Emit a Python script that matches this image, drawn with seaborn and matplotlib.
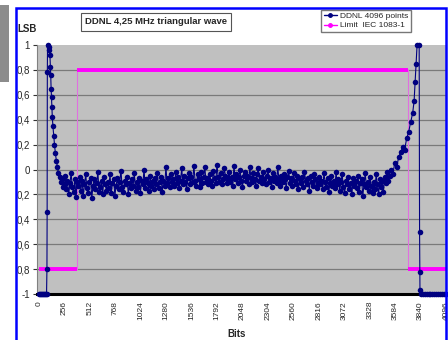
"""DDNL of a 12-bit ADC, 4.25 MHz triangular wave, with IEC 1083-1 limit."""

import numpy as np
import pandas as pd
import matplotlib
matplotlib.use("Agg")
import matplotlib.pyplot as plt
import matplotlib.patches as mpatches
from matplotlib.lines import Line2D
import seaborn as sns

# ─── Data ─────────────────────────────────────────────────────────────────────
# missing codes at the low end, then the steep ramp down into the plateau
low_bits = [0, 10, 20, 30, 40, 50, 60, 70, 76, 80, 82, 84, 86, 100, 105, 110,
            115, 118, 122, 126, 130, 134, 140, 148, 156, 165, 175, 185, 196,
            208, 220, 232, 244]
low_ddnl = [-1.0, -1.0, -1.0, -1.0, -1.0, -1.0, -1.0, -1.0, -1.0, -0.8, -0.34,
            0.78, 1.0, 0.98, 0.96, 0.92, 0.82, 0.76, 0.65, 0.58, 0.50, 0.42,
            0.35, 0.27, 0.20, 0.13, 0.07, 0.02, -0.03, -0.06, -0.10, -0.08,
            -0.14]

# noisy plateau, codes 250 .. 3540
plateau_start, plateau_end = 250, 3540
plateau_ddnl = [
    -0.12, -0.05, -0.16, -0.09, -0.20, -0.11, -0.03, -0.14, -0.18, -0.08, -0.22, -0.10, -0.13, -0.06, -0.17,
    -0.09, -0.21, -0.12, -0.04, -0.15, -0.19, -0.10, -0.07, -0.23, -0.13, -0.08, -0.16, -0.11, -0.02, -0.18,
    -0.14, -0.09, -0.20, -0.06, -0.12, -0.17, -0.10, -0.15, -0.04, -0.19, -0.11, -0.08, -0.21, -0.13, -0.07,
    -0.16, -0.10, -0.01, -0.14, -0.18, -0.09, -0.12, -0.06, -0.20, -0.11, -0.15, -0.08, -0.13, -0.03, -0.17,
    -0.10, -0.14, -0.07, -0.19, -0.09, -0.12, 0.00, -0.15, -0.08, -0.11, -0.17, -0.05, -0.13, -0.09, -0.16,
    -0.07, -0.12, -0.03, -0.15, -0.10, -0.06, -0.18, -0.09, -0.13, 0.02, -0.11, -0.07, -0.14, -0.04, -0.10,
    -0.08, -0.13, -0.02, -0.11, -0.06, -0.15, -0.09, 0.01, -0.12, -0.05, -0.10, -0.16, -0.07, -0.03, -0.12,
    -0.06, -0.10, 0.03, -0.09, -0.13, -0.04, -0.08, -0.14, -0.02, -0.11, -0.06, 0.02, -0.10, -0.07, -0.12,
    -0.04, -0.09, -0.13, -0.01, -0.07, -0.11, 0.04, -0.06, -0.10, -0.03, -0.12, -0.08, 0.01, -0.05, -0.11,
    -0.07, -0.02, -0.10, -0.06, -0.13, 0.03, -0.08, -0.04, -0.11, -0.06, 0.00, -0.09, -0.14, -0.05, -0.02,
    -0.09, -0.05, -0.12, 0.02, -0.07, -0.10, -0.03, -0.08, -0.13, -0.04, 0.01, -0.09, -0.06, -0.11, -0.02,
    -0.08, -0.12, -0.05, 0.00, -0.10, -0.07, -0.14, -0.03, -0.09, -0.06, -0.11, 0.02, -0.08, -0.13, -0.05,
    -0.10, -0.04, -0.08, -0.15, -0.06, -0.01, -0.11, -0.07, -0.13, -0.03, -0.09, -0.12, -0.05, -0.16, -0.08,
    -0.11, -0.06, -0.14, -0.02, -0.09, -0.12, -0.07, -0.17, -0.05, -0.10, -0.13, -0.04, -0.08, -0.15, -0.11,
    -0.06, -0.12, -0.09, -0.16, -0.03, -0.10, -0.14, -0.07, -0.18, -0.11, -0.05, -0.13, -0.09, -0.15, -0.02,
    -0.12, -0.08, -0.17, -0.10, -0.04, -0.14, -0.19, -0.09, -0.12, -0.06, -0.16, -0.11, -0.20, -0.07, -0.13,
    -0.09, -0.15, -0.05, -0.18, -0.11, -0.08, -0.21, -0.12, -0.03, -0.14, -0.10, -0.17, -0.06, -0.13, -0.19,
    -0.10, -0.16, -0.04, -0.12, -0.20, -0.08, -0.14, -0.09, -0.18, -0.06, -0.11, -0.02, -0.09, -0.05, 0.00,
]

# ramp up at the high end, then missing codes
high_bits = [3560, 3580, 3600, 3620, 3640, 3660, 3680, 3700, 3720, 3740, 3760,
             3775, 3785, 3795, 3805, 3826, 3830, 3832, 3834, 3840, 3860, 3880,
             3900, 3920, 3940, 3960, 3980, 4000, 4020, 4040, 4060, 4080, 4095]
high_ddnl = [-0.04, 0.05, 0.02, 0.10, 0.14, 0.18, 0.16, 0.25, 0.30, 0.38, 0.45,
             0.55, 0.70, 0.85, 1.0, 1.0, -0.5, -0.82, -0.97, -1.0, -1.0, -1.0,
             -1.0, -1.0, -1.0, -1.0, -1.0, -1.0, -1.0, -1.0, -1.0, -1.0, -1.0]

# IEC 1083-1 limit
limit_bits = [0, 384, 384, 3712, 3712, 4096]
limit_lsb = [-0.8, -0.8, 0.8, 0.8, -0.8, -0.8]

x_ticks = list(range(0, 4097, 256))
y_ticks = [-1, -0.8, -0.6, -0.4, -0.2, 0, 0.2, 0.4, 0.6, 0.8, 1]
y_labels = ["-1", "0,8", "0,6", "0,4", "0,2", "0", "0,2", "0,4", "0,6", "0,8", "1"]

NAVY = "#000080"
MAGENTA = "#ff00ff"

plateau_bits = np.linspace(plateau_start, plateau_end, len(plateau_ddnl))
ddnl = pd.DataFrame({
    "Bits": np.concatenate([low_bits, plateau_bits, high_bits]),
    "LSB": np.concatenate([low_ddnl, plateau_ddnl, high_ddnl]),
})

# ─── Figure ───────────────────────────────────────────────────────────────────
sns.set_style("white")
plt.rcParams["font.family"] = ["Liberation Sans", "DejaVu Sans"]

W, H = 448, 340
fig = plt.figure(figsize=(W / 100, H / 100), dpi=100)
fig.patch.set_facecolor("white")

# grey block at far left and the blue chart frame
fig.add_artist(mpatches.Rectangle((0, 1 - 82 / H), 9 / W, 77 / H,
                                  transform=fig.transFigure,
                                  facecolor="#8c8c8c", edgecolor="none"))
fig.add_artist(mpatches.Rectangle((16 / W, -0.05), 430 / W, 1.05 - 8 / H,
                                  transform=fig.transFigure, fill=False,
                                  edgecolor="#0000ff", linewidth=1.8))

ax = fig.add_axes([37 / W, 1 - 294 / H, 409 / W, 249 / H])
ax.set_facecolor("#c0c0c0")

for y in y_ticks[1:-1]:
    ax.axhline(y, color="#7a7a7a", linewidth=0.9, zorder=1)

# limit: thin verticals, thick horizontals
ax.plot(limit_bits, limit_lsb, color="#e070e0", linewidth=0.8, zorder=2)
for i in range(0, len(limit_bits), 2):
    ax.plot(limit_bits[i:i + 2], limit_lsb[i:i + 2], color=MAGENTA,
            linewidth=2.8, solid_capstyle="butt", zorder=3)

sns.lineplot(data=ddnl, x="Bits", y="LSB", sort=False, estimator=None,
             color=NAVY, linewidth=0.8, marker="o", markersize=4.0,
             markeredgewidth=0, ax=ax, zorder=4, clip_on=False)
# the run of missing codes sits on the axis as a solid bar
ax.plot(low_bits[:9], low_ddnl[:9], color=NAVY, linewidth=2.4, zorder=4,
        clip_on=False)
ax.plot(high_bits[19:], high_ddnl[19:], color=NAVY, linewidth=2.4, zorder=4,
        clip_on=False)

ax.set_xlim(-20, 4096)
ax.set_ylim(-1, 1)
ax.set_xticks(x_ticks)
ax.set_xticklabels([str(t) for t in x_ticks], rotation=90, fontsize=6)
ax.set_yticks(y_ticks)
ax.set_yticklabels(y_labels, fontsize=7)
ax.tick_params(axis="y", length=3, width=0.8, color="#333333", pad=2, left=True)
ax.tick_params(axis="x", length=0, pad=5)
ax.set_xlabel("")
ax.set_ylabel("")

for side in ["top", "right"]:
    ax.spines[side].set_visible(False)
ax.spines["left"].set_color("#808080")
ax.spines["left"].set_linewidth(0.8)
ax.spines["bottom"].set_color("black")
ax.spines["bottom"].set_linewidth(2.2)

fig.text(17 / W, 1 - 29 / H, "LSB", fontsize=7, fontweight="bold",
         ha="left", va="center")
fig.text(237 / W, 1 - 334 / H, "Bits", fontsize=7, fontweight="bold",
         ha="center", va="center")

fig.text(156 / W, 1 - 22 / H, "DDNL 4,25 MHz triangular wave", fontsize=6.8,
         fontweight="bold", ha="center", va="center",
         bbox=dict(boxstyle="square,pad=0.45", facecolor="white",
                   edgecolor="#555555", linewidth=0.8))

handles = [
    Line2D([], [], color=NAVY, marker="o", markersize=2.5, linewidth=1),
    Line2D([], [], color=MAGENTA, marker="o", markersize=2.5, linewidth=1),
]
fig.legend(handles, ["DDNL 4096 points", "Limit  IEC 1083-1"],
           loc="upper left", bbox_to_anchor=(321 / W, 1 - 10 / H),
           fontsize=6, frameon=True, fancybox=False, edgecolor="#555555",
           handlelength=1.6, handletextpad=0.4, borderpad=0.3,
           labelspacing=0.15, borderaxespad=0)

fig.savefig("out.png", dpi=100)
plt.close(fig)
